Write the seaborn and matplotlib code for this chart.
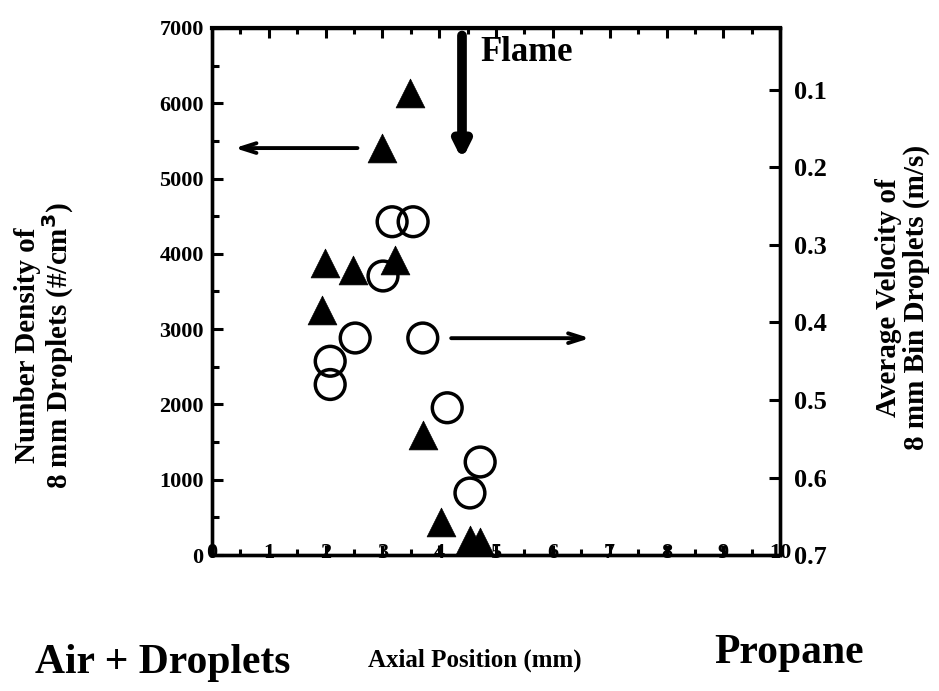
import matplotlib
matplotlib.use("Agg")
import matplotlib.pyplot as plt
import seaborn as sns
from matplotlib.ticker import MultipleLocator

# ── Data ──────────────────────────────────────────────────────
# filled triangles: number density (left axis)
tri_x = [1.94, 1.99, 2.48, 2.99, 3.22, 3.49, 3.71, 4.03, 4.54, 4.72]
tri_density = [3250, 3880, 3790, 5405, 3920, 6140, 1590, 440, 200, 175]

# open circles: average velocity (right axis, inverted)
circ_x = [2.08, 2.08, 2.52, 3.01, 3.17, 3.54, 3.71, 4.14, 4.54, 4.72]
circ_vel = [0.45, 0.48, 0.42, 0.34, 0.27, 0.27, 0.42, 0.51, 0.62, 0.58]

x_ticks = list(range(0, 11))
density_ticks = [0, 1000, 2000, 3000, 4000, 5000, 6000, 7000]
vel_ticks = [0.1, 0.2, 0.3, 0.4, 0.5, 0.6, 0.7]

SERIF = "Liberation Serif"

sns.set_style("ticks")
plt.rcParams["font.family"] = [SERIF, "DejaVu Serif"]
plt.rcParams["font.weight"] = "bold"
for key in ("text.color", "axes.labelcolor", "xtick.color", "ytick.color",
            "axes.edgecolor"):
    plt.rcParams[key] = "black"

fig = plt.figure(figsize=(9.39, 6.91), dpi=100)
ax = fig.add_axes([0.2258, 0.1968, 0.6050, 0.7627])
ax2 = ax.twinx()

sns.scatterplot(x=tri_x, y=tri_density, ax=ax, marker="^", s=430,
                color="black", edgecolor="black", linewidth=0.5,
                legend=False, zorder=3)
sns.scatterplot(x=circ_x, y=circ_vel, ax=ax2, marker="o", s=460,
                facecolor="none", edgecolor="black", linewidth=2.5,
                legend=False, zorder=3)

ax.set_xlim(0, 10)
ax.set_ylim(0, 7000)
ax2.set_ylim(0.70, 0.02)

ax.set_xticks(x_ticks)
ax.xaxis.set_minor_locator(MultipleLocator(0.5))
ax.set_yticks(density_ticks)
ax.yaxis.set_minor_locator(MultipleLocator(500))
ax2.set_yticks(vel_ticks)

ax.set_xticklabels([str(t) for t in x_ticks], fontsize=16, fontweight="bold")
ax.set_yticklabels([str(t) for t in density_ticks], fontsize=16, fontweight="bold")
ax2.set_yticklabels([f"{t:.1f}" for t in vel_ticks], fontsize=19, fontweight="bold")

ax.tick_params(axis="x", which="both", direction="in", top=True,
               width=2.2, pad=-9, colors="black")
ax.tick_params(axis="x", which="major", length=7)
ax.tick_params(axis="x", which="minor", length=4)
ax.tick_params(axis="y", which="both", direction="in", width=2.2, pad=6,
               colors="black")
ax.tick_params(axis="y", which="major", length=8)
ax.tick_params(axis="y", which="minor", length=5)
ax2.tick_params(axis="y", which="both", direction="in", width=2.2, pad=10,
                colors="black")
ax2.tick_params(axis="y", which="major", length=8)

for a in (ax, ax2):
    for side in ("left", "right", "top", "bottom"):
        a.spines[side].set_linewidth(2.4)
        a.spines[side].set_color("black")
ax2.spines["top"].set_linewidth(3)

ax.set_xlabel("")
ax.set_ylabel("")
ax2.set_ylabel("")

# ── Annotations ───────────────────────────────────────────────
ax.annotate("", xy=(4.40, 5250), xytext=(4.40, 6900),
            arrowprops=dict(arrowstyle="-|>,head_width=0.45,head_length=0.9",
                            color="black", lw=7, shrinkA=0, shrinkB=0))
ax.text(4.72, 6900, "Flame", fontsize=25, fontweight="bold",
        ha="left", va="top")
ax.annotate("", xy=(0.40, 5405), xytext=(2.56, 5405),
            arrowprops=dict(arrowstyle="->,head_width=0.35,head_length=1.1",
                            color="black", lw=2.8, shrinkA=0, shrinkB=0))
ax.annotate("", xy=(6.65, 2880), xytext=(4.21, 2880),
            arrowprops=dict(arrowstyle="->,head_width=0.35,head_length=1.1",
                            color="black", lw=2.8, shrinkA=0, shrinkB=0))

# ── Axis titles placed as in the scan ─────────────────────────
fig.text(0.048, 0.50, "Number Density of\n8 mm Droplets (#/cm$^3$)",
         rotation=90, fontsize=21, fontweight="bold", ha="center",
         va="center", linespacing=1.0)
fig.text(0.961, 0.57, "Average Velocity of\n8 mm Bin Droplets (m/s)",
         rotation=90, fontsize=21, fontweight="bold", ha="center",
         va="center", linespacing=1.0)

fig.text(0.173, 0.040, "Air + Droplets", fontsize=30, fontweight="bold",
         ha="center", va="center")
fig.text(0.506, 0.045, "Axial Position (mm)", fontsize=18, fontweight="bold",
         ha="center", va="center")
fig.text(0.840, 0.055, "Propane", fontsize=30, fontweight="bold",
         ha="center", va="center")

fig.savefig("out.png", dpi=100)
